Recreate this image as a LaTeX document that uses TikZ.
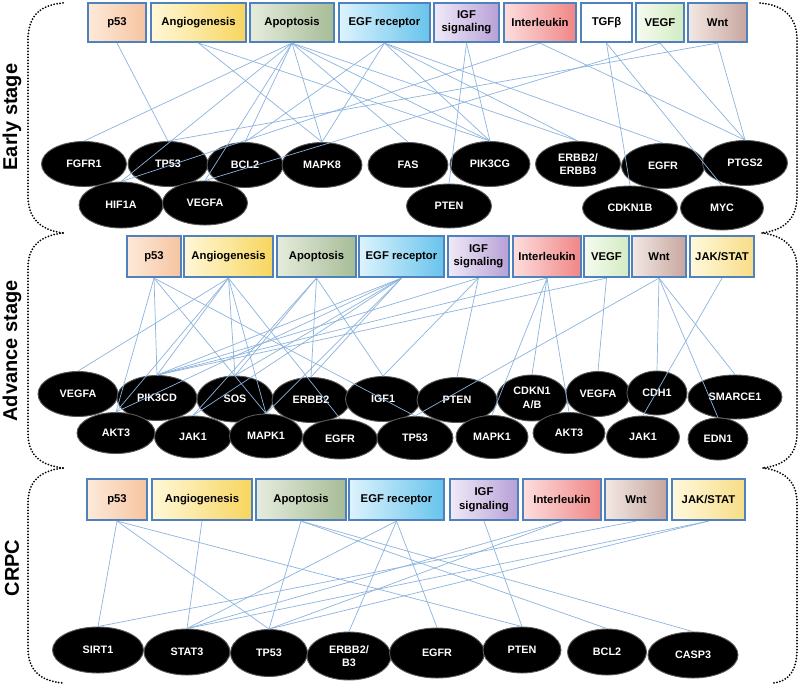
\documentclass[tikz,border=0pt]{standalone}
\usepackage{fontspec}
\setmainfont{Liberation Sans}
\usetikzlibrary{shapes.geometric}
\definecolor{boxblue}{RGB}{79,129,189}
\definecolor{linkblue}{RGB}{140,180,222}
\definecolor{pL}{HTML}{FDEADA}\definecolor{pR}{HTML}{F6C4A0}
\definecolor{aL}{HTML}{FFF8D8}\definecolor{aR}{HTML}{F7D55E}
\definecolor{oL}{HTML}{E6ECDD}\definecolor{oR}{HTML}{A6BC96}
\definecolor{eL}{HTML}{DDF3FD}\definecolor{eR}{HTML}{67C3EC}
\definecolor{iL}{HTML}{F0EAF8}\definecolor{iR}{HTML}{B7A0D6}
\definecolor{lL}{HTML}{FDDEDE}\definecolor{lR}{HTML}{F08585}
\definecolor{vL}{HTML}{F6FBF0}\definecolor{vR}{HTML}{D2EBC2}
\definecolor{wL}{HTML}{F3E8E4}\definecolor{wR}{HTML}{C6A69E}
\definecolor{jL}{HTML}{FFF9DC}\definecolor{jR}{HTML}{F8DD86}
\newcommand\bx[8]{\node[pbox,left color=#6,right color=#7,minimum width=#4pt,minimum height=#5pt] (#1) at (#2,#3) {#8};}
\newcommand\gn[6]{\node[gene,minimum width=#4pt,minimum height=#5pt] (#1) at (#2,#3) {#6};}
\begin{document}
\begin{tikzpicture}[x=1pt,y=-1pt,
  pbox/.style={draw=boxblue,line width=2.2pt,inner sep=1pt,align=center,
    font=\bfseries\fontsize{11.3}{13.5}\selectfont},
  gene/.style={ellipse,fill=black,draw=black!65,line width=0.9pt,text=white,inner sep=0pt,align=center,
    font=\bfseries\fontsize{10.8}{13.5}\selectfont},
  link/.style={draw=linkblue,line width=0.7pt},
  brk/.style={line width=2pt,line cap=round,dash pattern=on 0pt off 3pt},
  stagelbl/.style={rotate=90,inner sep=0pt,font=\bfseries\fontsize{20}{24}\selectfont}]
\useasboundingbox[fill=white] (0,0) rectangle (800,687);

% brackets
\draw[brk] (63,3) .. controls (38,5) and (28,18) .. (28,40) -- (28,196) .. controls (28,218) and (40,230) .. (63,233);
\draw[brk] (63,233) .. controls (38,236) and (28,248) .. (28,268) -- (28,433) .. controls (28,455) and (40,465) .. (63,468);
\draw[brk] (63,468) .. controls (38,471) and (28,483) .. (28,503) -- (28,648) .. controls (28,670) and (40,681) .. (63,683);
\draw[brk] (760,3) .. controls (785,5) and (797,18) .. (797,40) -- (797,196) .. controls (797,218) and (785,230) .. (762,233);
\draw[brk] (762,233) .. controls (785,236) and (797,248) .. (797,268) -- (797,433) .. controls (797,455) and (785,465) .. (763,468);
\draw[brk] (763,468) .. controls (786,471) and (797,483) .. (797,503) -- (797,648) .. controls (797,670) and (790,681) .. (773,683);

% stage labels
\node[stagelbl] (lblE) at (12,117) {Early stage};
\node[stagelbl] (lblA) at (12,351) {Advance stage};
\node[stagelbl] (lblC) at (12,568) {CRPC};

% early boxes
\bx{ep}{117}{22.5}{58}{39}{pL}{pR}{p53}
\bx{ea}{198.5}{22.5}{95}{39}{aL}{aR}{Angiogenesis}
\bx{eo}{292}{22.5}{84}{39}{oL}{oR}{Apoptosis}
\bx{ee}{384.5}{22.5}{91}{39}{eL}{eR}{EGF receptor}
\bx{ei}{466.5}{22.5}{65}{39}{iL}{iR}{IGF\\signaling}
\bx{el}{540}{22.5}{72}{39}{lL}{lR}{Interleukin}
\bx{et}{606.5}{22.5}{51}{39}{white}{white}{TGFβ}
\bx{ev}{660}{22.5}{48}{39}{vL}{vR}{VEGF}
\bx{ew}{717.5}{22.5}{59}{39}{wL}{wR}{Wnt}

% advance boxes
\bx{ap}{154}{256.5}{54}{41}{pL}{pR}{p53}
\bx{aa}{228.5}{256.5}{89}{41}{aL}{aR}{Angiogenesis}
\bx{ao}{316.5}{256.5}{79}{41}{oL}{oR}{Apoptosis}
\bx{ae}{401.5}{256.5}{85}{41}{eL}{eR}{EGF receptor}
\bx{ai}{478.5}{256.5}{61}{41}{iL}{iR}{IGF\\signaling}
\bx{al}{547}{256.5}{68}{41}{lL}{lR}{Interleukin}
\bx{av}{606.5}{256.5}{45}{41}{vL}{vR}{VEGF}
\bx{aw}{659}{256.5}{54}{41}{wL}{wR}{Wnt}
\bx{aj}{722}{256.5}{64}{41}{jL}{jR}{JAK/STAT}

% CRPC boxes
\bx{cp}{117}{499.5}{60}{41}{pL}{pR}{p53}
\bx{ca}{202}{499.5}{100}{41}{aL}{aR}{Angiogenesis}
\bx{co}{301}{499.5}{90}{41}{oL}{oR}{Apoptosis}
\bx{ce}{396.5}{499.5}{95}{41}{eL}{eR}{EGF receptor}
\bx{ci}{484}{499.5}{68}{41}{iL}{iR}{IGF\\signaling}
\bx{cl}{562}{499.5}{78}{41}{lL}{lR}{Interleukin}
\bx{cw}{636}{499.5}{62}{41}{wL}{wR}{Wnt}
\bx{cj}{708.5}{499.5}{73}{41}{jL}{jR}{JAK/STAT}

% early genes
\gn{eFGFR1}{84}{164}{85}{45}{FGFR1}
\gn{eTP53}{168}{164}{80}{45}{TP53}
\gn{eBCL2}{245}{165}{76}{45}{BCL2}
\gn{eMAPK8}{322}{165}{80}{45}{MAPK8}
\gn{eFAS}{408}{165}{80}{45}{FAS}
\gn{ePIK3CG}{490}{164}{80}{45}{PIK3CG}
\gn{eERBB}{578}{164}{85}{45}{ERBB2/\\ERBB3}
\gn{eEGFR}{663}{166}{83}{45}{EGFR}
\gn{ePTGS2}{745}{163}{85}{45}{PTGS2}
\gn{eHIF1A}{121}{205}{84}{46}{HIF1A}
\gn{eVEGFA}{205}{203}{85}{44}{VEGFA}
\gn{ePTEN}{449}{206}{85}{44}{PTEN}
\gn{eCDKN1B}{630}{208}{95}{44}{CDKN1B}
\gn{eMYC}{722}{208}{83}{44}{MYC}

% advance genes
\gn{aVEGFA}{78}{394}{80}{45}{VEGFA}
\gn{aPIK3CD}{157}{398}{80}{45}{PIK3CD}
\gn{aSOS}{235}{399}{76}{46}{SOS}
\gn{aERBB2}{311}{400}{78}{45}{ERBB2}
\gn{aIGF1}{383}{399}{75}{45}{IGF1}
\gn{aPTEN}{457}{400}{80}{45}{PTEN}
\gn{aCDKN1}{532}{398}{70}{46}{CDKN1\\A/B}
\gn{aVEGFAb}{598}{394}{64}{45}{VEGFA}
\gn{aCDH1}{657}{393}{60}{44}{CDH1}
\gn{aSMARCE1}{735}{397}{94}{44}{SMARCE1}
\gn{aAKT3}{116}{433}{78}{41}{AKT3}
\gn{aJAK1}{193}{437}{77}{42}{JAK1}
\gn{aMAPK1}{266}{436}{73}{44}{MAPK1}
\gn{aEGFR}{340}{439}{75}{40}{EGFR}
\gn{aTP53}{415}{438}{76}{43}{TP53}
\gn{aMAPK1b}{492}{437}{72}{43}{MAPK1}
\gn{aAKT3b}{569}{433}{72}{41}{AKT3}
\gn{aJAK1b}{643}{437}{73}{42}{JAK1}
\gn{aEDN1}{718}{439}{60}{42}{EDN1}

% CRPC genes
\gn{cSIRT1}{98}{650}{91}{46}{SIRT1}
\gn{cSTAT3}{187}{652}{86}{46}{STAT3}
\gn{cTP53}{269}{653}{77}{47}{TP53}
\gn{cERBB}{349}{656}{84}{48}{ERBB2/\\B3}
\gn{cEGFR}{437}{653}{95}{50}{EGFR}
\gn{cPTEN}{522}{650}{78}{46}{PTEN}
\gn{cBCL2}{607}{652}{79}{46}{BCL2}
\gn{cCASP3}{693}{655}{90}{46}{CASP3}

% early links
\foreach \s/\t in {ep/eTP53, ea/eMAPK8, ea/ePIK3CG,
  eo/eFGFR1, eo/eHIF1A, eo/eVEGFA, eo/eBCL2, eo/eMAPK8, eo/eFAS, eo/ePIK3CG, eo/eERBB,
  ee/eBCL2, ee/eMAPK8, ee/ePIK3CG, ee/eERBB, ee/eEGFR,
  ei/ePTEN, ei/ePIK3CG, el/ePTGS2, el/eHIF1A, et/eCDKN1B, et/eMYC,
  ev/eVEGFA, ev/ePTGS2, ew/eTP53, ew/ePTGS2}
  \draw[link] (\s.south) -- (\t.north);

% advance links
\foreach \s/\t in {ap/aPIK3CD, ap/aAKT3, ap/aTP53, ap/aMAPK1,
  aa/aVEGFA, aa/aPIK3CD, aa/aAKT3, aa/aMAPK1, aa/aSOS, aa/aEGFR,
  ao/aSOS, ao/aJAK1, ao/aERBB2, ao/aIGF1,
  ae/aPIK3CD, ae/aSOS, ae/aAKT3, ae/aJAK1, ae/aERBB2, ae/aMAPK1,
  ai/aPTEN, ai/aPIK3CD, ai/aIGF1,
  al/aCDKN1, al/aAKT3b, al/aPIK3CD, al/aMAPK1b,
  av/aVEGFAb, av/aPIK3CD,
  aw/aCDH1, aw/aSMARCE1, aw/aEDN1, aw/aTP53, aj/aJAK1b}
  \draw[link] (\s.south) -- (\t.north);

% CRPC links
\foreach \s/\t in {cp/cSIRT1, cp/cTP53, cp/cPTEN, ca/cSTAT3,
  co/cTP53, co/cBCL2, co/cCASP3,
  ce/cSTAT3, ce/cERBB, ce/cEGFR, ci/cPTEN,
  cl/cSTAT3, cl/cTP53, cw/cSIRT1, cj/cSTAT3, cj/cTP53}
  \draw[link] (\s.south) -- (\t.north);
\end{tikzpicture}
\end{document}
